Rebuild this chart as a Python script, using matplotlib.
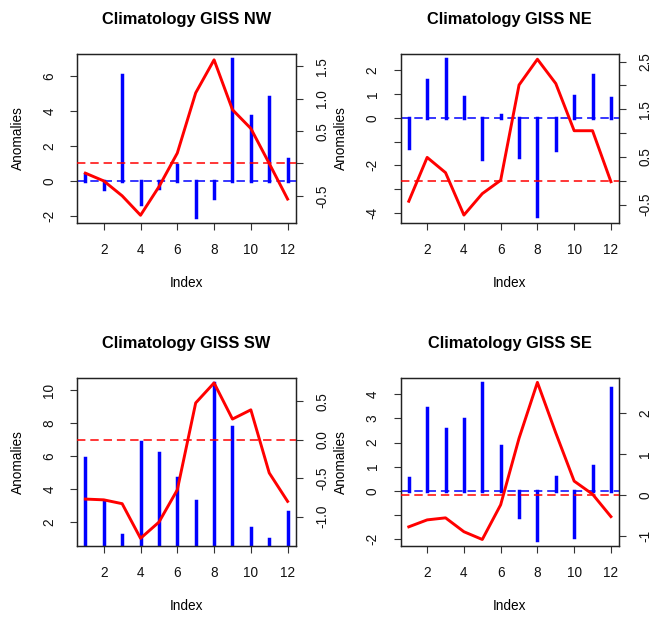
import matplotlib
matplotlib.use("Agg")
import matplotlib.pyplot as plt

plt.rcParams['font.family'] = ['Liberation Sans', 'DejaVu Sans']

months = list(range(1, 13))
x_ticks = [2, 4, 6, 8, 10, 12]

# Bar series (left axis): regional anomalies
nw_bars = [0.4, -0.47, 6.03, -1.31, -0.4, 0.9, -2.03, -0.95, 6.97, 3.73, 4.8, 1.25]
ne_bars = [-1.25, 1.6, 2.45, 0.87, -1.75, 0.13, -1.64, -4.13, -1.36, 0.92, 1.78, 0.81]
sw_bars = [5.88, 3.24, 1.21, 6.89, 6.22, 4.66, 3.28, 10.48, 7.76, 1.64, 0.97, 2.59]
se_bars = [0.52, 3.42, 2.58, 2.98, 4.48, 1.86, -1.06, -2.03, 0.58, -1.92, 1.03, 4.25]

# Line series (right axis): GISS climatology anomalies
nw_line = [-0.15, -0.27, -0.5, -0.8, -0.36, 0.16, 1.09, 1.6, 0.83, 0.54, 0.0, -0.55]
ne_line = [-0.43, 0.49, 0.17, -0.72, -0.27, 0.01, 2.01, 2.55, 2.04, 1.05, 1.05, -0.02]
sw_line = [-0.77, -0.78, -0.83, -1.28, -1.07, -0.65, 0.48, 0.74, 0.27, 0.39, -0.43, -0.8]
se_line = [-0.78, -0.61, -0.56, -0.9, -1.09, -0.24, 1.39, 2.76, 1.52, 0.34, 0.02, -0.53]

titles = ["Climatology GISS NW", "Climatology GISS NE",
          "Climatology GISS SW", "Climatology GISS SE"]

# Tick positions and labels (blank labels are ticks without text)
nw_left_ticks, nw_left_labels = [-2, 0, 2, 4, 6], ["-2", "0", "2", "4", "6"]
nw_right_ticks, nw_right_labels = [-0.5, 0.0, 0.5, 1.0, 1.5], ["-0.5", "", "0.5", "1.0", "1.5"]
ne_left_ticks, ne_left_labels = [-4, -3, -2, -1, 0, 1, 2], ["-4", "", "-2", "", "0", "1", "2"]
ne_right_ticks, ne_right_labels = [-0.5, 0.0, 0.5, 1.0, 1.5, 2.0, 2.5], ["-0.5", "", "0.5", "", "1.5", "", "2.5"]
sw_left_ticks, sw_left_labels = [2, 4, 6, 8, 10], ["2", "4", "6", "8", "10"]
sw_right_ticks, sw_right_labels = [-1.0, -0.5, 0.0, 0.5], ["-1.0", "-0.5", "0.0", "0.5"]
se_left_ticks, se_left_labels = [-2, -1, 0, 1, 2, 3, 4], ["-2", "", "0", "1", "2", "3", "4"]
se_right_ticks, se_right_labels = [-1, 0, 1, 2], ["-1", "0", "1", "2"]

panels = [
    (nw_bars, nw_line, titles[0], (-2.38, 7.25), (-0.915, 1.69),
     nw_left_ticks, nw_left_labels, nw_right_ticks, nw_right_labels),
    (ne_bars, ne_line, titles[1], (-4.41, 2.68), (-0.88, 2.66),
     ne_left_ticks, ne_left_labels, ne_right_ticks, ne_right_labels),
    (sw_bars, sw_line, titles[2], (0.54, 10.74), (-1.38, 0.80),
     sw_left_ticks, sw_left_labels, sw_right_ticks, sw_right_labels),
    (se_bars, se_line, titles[3], (-2.28, 4.66), (-1.25, 2.86),
     se_left_ticks, se_left_labels, se_right_ticks, se_right_labels),
]

W, H = 649, 617
fig = plt.figure(figsize=(W / 100, H / 100), dpi=100)

# Axes frames in pixel coordinates: (left, top, right, bottom)
frames = [(77.3, 54.0, 295.7, 222.7), (400.7, 54.0, 619.0, 222.7),
          (77.3, 378.3, 295.7, 546.0), (400.7, 378.3, 619.0, 546.0)]

FS = 9.8
dash = (0, (5.5, 3.2))
for (bars, line, title, ylim_l, ylim_r, lt, ll, rt, rl), (l, t, r, b) in zip(panels, frames):
    ax = fig.add_axes([l / W, 1 - b / H, (r - l) / W, (b - t) / H])
    ax.vlines(months, 0, bars, colors='#0000FF', linewidth=2.5,
              capstyle='projecting', zorder=2)
    ax.axhline(0, color='#0000FF', linewidth=1.1, linestyle=dash, zorder=3)
    ax.set_xlim(0.56, 12.44)
    ax.set_ylim(*ylim_l)
    ax.set_xticks(x_ticks)
    ax.set_xticklabels([str(v) for v in x_ticks])
    ax.set_yticks(lt)
    ax.set_yticklabels(ll, rotation=90, va='center')

    ax2 = ax.twinx()
    ax2.plot(months, line, color='#FF0000', linewidth=2.1, solid_joinstyle='round', zorder=4)
    ax2.axhline(0, color='#FF0000', linewidth=1.1, linestyle=dash, zorder=3)
    ax2.set_ylim(*ylim_r)
    ax2.set_yticks(rt)
    ax2.set_yticklabels(rl, rotation=90, va='center')

    for a in (ax, ax2):
        for s in a.spines.values():
            s.set_linewidth(0.9)
            s.set_color('#222222')
        a.tick_params(length=5, width=0.8, color='#333333', labelsize=FS,
                      labelcolor='#111111')
    ax.tick_params(axis='x', pad=9.5)
    ax.tick_params(axis='y', pad=10)
    ax2.tick_params(axis='y', pad=9)

    ax.text(0.5, 1.207, title, transform=ax.transAxes, ha='center', va='center',
            fontsize=11.8, fontweight='bold')
    ax.text(0.5, -0.357, "Index", transform=ax.transAxes, ha='center', va='center',
            fontsize=FS)
    # The left label of each panel also serves as the right-axis label of the
    # panel to its left, since both sit in the same gap between columns.
    ax.text(-0.2715, 0.5, "Anomalies", transform=ax.transAxes, ha='center', va='center',
            rotation=90, fontsize=FS)

fig.savefig("out.png", dpi=100)
